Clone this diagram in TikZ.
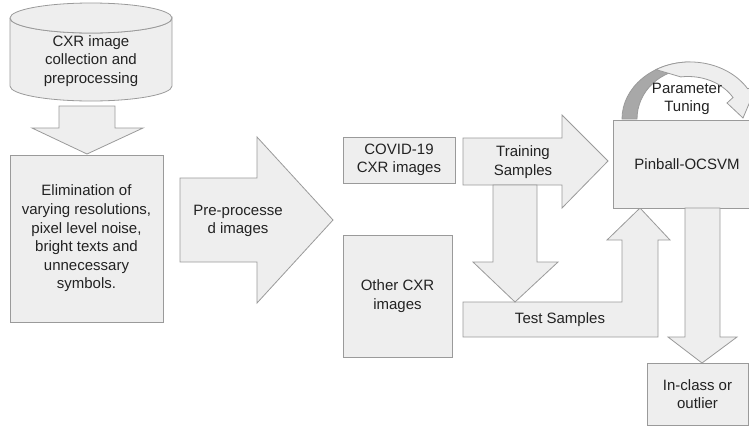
\documentclass[tikz,border=0pt]{standalone}
\usepackage{fontspec}
\setmainfont{Liberation Sans}
\definecolor{blkfill}{HTML}{EEEEEE}
\definecolor{blkline}{HTML}{9A9A9A}
\definecolor{backfill}{HTML}{A8A8A8}
\definecolor{txt}{HTML}{222222}

\begin{document}
\begin{tikzpicture}[x=1pt,y=-1pt,
    blk/.style={draw=blkline, fill=blkfill, line width=0.8pt},
    box/.style={blk, inner sep=0pt, align=center, text=txt, font=\fontsize{15}{18.6}\selectfont},
    lbl/.style={inner sep=0pt, align=center, text=txt, font=\fontsize{15}{18.6}\selectfont}]
    \useasboundingbox (0,0) rectangle (749,429);
    \clip (0,0) rectangle (749,429);

    % data store
    \filldraw[blk] (10,18) -- (10,86) arc[start angle=180,end angle=0,x radius=81,y radius=15]
        -- (172,18) arc[start angle=0,end angle=180,x radius=81,y radius=15];
    \filldraw[blk] (91,18) ellipse[x radius=81,y radius=15];
    \node[lbl] (store) at (91,61) {CXR image\\collection and\\preprocessing};

    \filldraw[blk] (59,106) -- (115,106) -- (115,128) -- (143,128) -- (87,154)
        -- (32,128) -- (59,128) -- cycle;

    \node[box, minimum width=153, minimum height=167] (elim) at (86.5,238.5)
        {Elimination of\\varying resolutions,\\pixel level noise,\\bright texts and\\unnecessary\\symbols.};

    % pre-processed images
    \filldraw[blk] (180,178) -- (257,178) -- (257,137) -- (333,220) -- (257,303)
        -- (257,262) -- (180,262) -- cycle;
    \node[lbl] (pre) at (238,221) {Pre-processe\\d images};

    \node[box, minimum width=112, minimum height=46] (covid) at (399,160) {COVID-19\\CXR images};
    \node[box, minimum width=109, minimum height=122] (other) at (397.5,296) {Other CXR\\images};

    % test samples
    \filldraw[blk] (463,302) -- (622,302) -- (622,240) -- (607,240) -- (640,208)
        -- (670,240) -- (658,240) -- (658,337) -- (463,337) -- cycle;
    \node[lbl] (test) at (560,320) {Test Samples};

    % training samples
    \filldraw[blk] (463,138) -- (562,138) -- (562,115) -- (608,161) -- (562,208)
        -- (562,185) -- (463,185) -- cycle;
    \node[lbl] (train) at (523,162) {Training\\Samples};

    \filldraw[blk] (493,185) -- (537,185) -- (537,262) -- (558,262) -- (515,302)
        -- (473,262) -- (493,262) -- cycle;

    \node[box, minimum width=148, minimum height=88] (svm) at (687,164) {Pinball-OCSVM};

    % parameter tuning
    \filldraw[blk, fill=backfill] (622,119) arc[start angle=180,end angle=270,x radius=68,y radius=57]
        -- (690,69) arc[start angle=270,end angle=180,x radius=53,y radius=50] -- cycle;
    \filldraw[blk] (656,69.6) arc[start angle=240,end angle=328,x radius=68,y radius=57]
        -- (757,85) -- (743,118) -- (727,103) -- (733,97.5)
        arc[start angle=330,end angle=262,x radius=52,y radius=42] -- cycle;
    \node[lbl, font=\fontsize{15}{18}\selectfont] (tune) at (687,99) {Parameter\\Tuning};

    % result
    \filldraw[blk] (685,208) -- (720,208) -- (720,337) -- (737,337) -- (702,363)
        -- (668,337) -- (685,337) -- cycle;
    \node[box, minimum width=101, minimum height=62] (out) at (697.5,394) {In-class or\\outlier};
\end{tikzpicture}
\end{document}
